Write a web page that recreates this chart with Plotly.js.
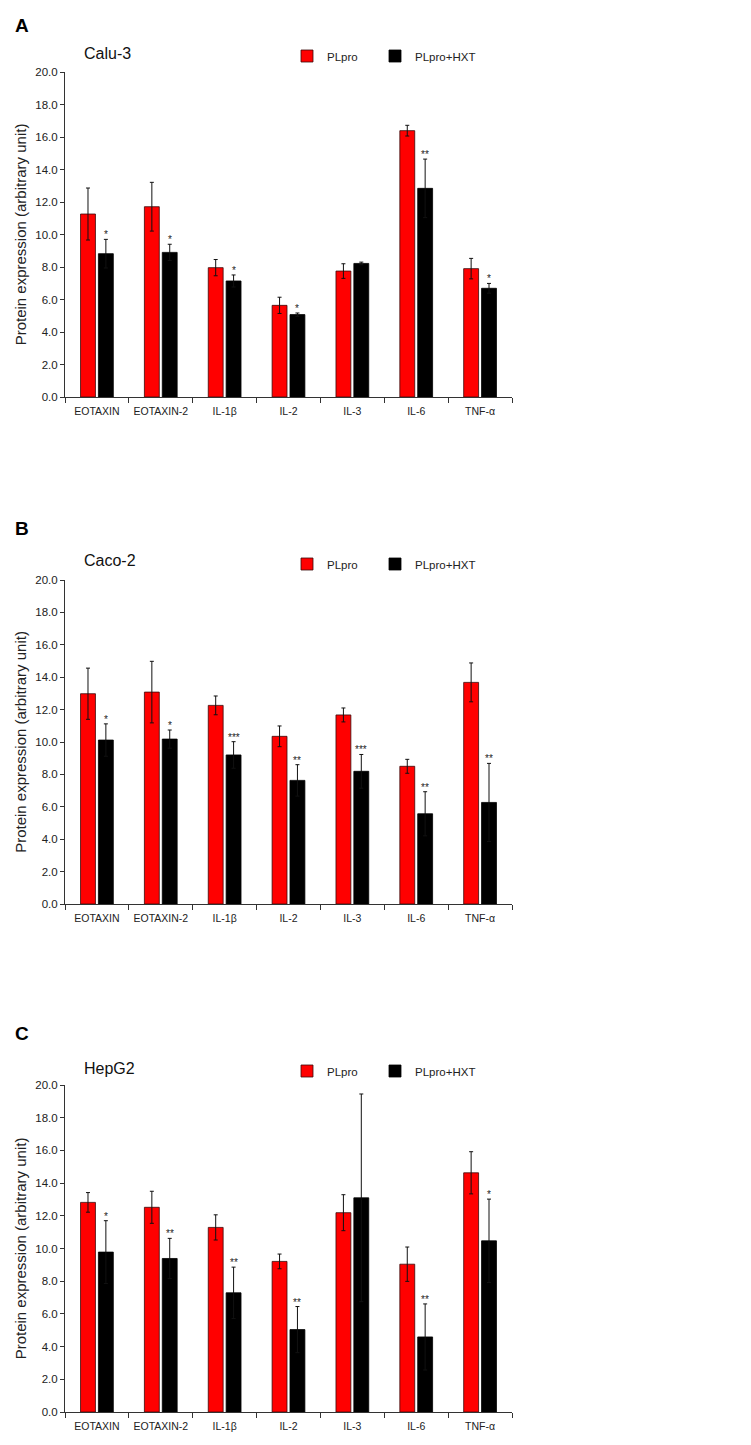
<!DOCTYPE html>
<html><head><meta charset="utf-8">
<script src="https://cdn.plot.ly/plotly-3.0.1.min.js"></script>
<style>html,body{margin:0;padding:0;background:#fff}</style>
</head><body><div id="chart" style="width:751px;height:1445px"></div>
<script>
const categories = ['EOTAXIN','EOTAXIN-2','IL-1β','IL-2','IL-3','IL-6','TNF-α'];
const panelLetters = ['A','B','C'];
const cellLines = ['Calu-3','Caco-2','HepG2'];
const seriesNames = ['PLpro','PLpro+HXT'];
const yTitle = 'Protein expression (arbitrary unit)';

// Panel A: Calu-3
const caluPLpro    = [11.26, 11.71, 7.96, 5.64, 7.75, 16.39, 7.90];
const caluPLproErr = [1.60, 1.50, 0.50, 0.50, 0.45, 0.33, 0.63];
const caluHXT      = [8.82, 8.90, 7.14, 5.07, 8.22, 12.84, 6.69];
const caluHXTErr   = [0.88, 0.50, 0.37, 0.10, 0.08, 1.80, 0.30];
const caluStars    = ['*','*','*','*','','**','*'];

// Panel B: Caco-2
const cacoPLpro    = [12.98, 13.08, 12.26, 10.35, 11.67, 8.50, 13.68];
const cacoPLproErr = [1.58, 1.90, 0.58, 0.64, 0.43, 0.43, 1.20];
const cacoHXT      = [10.12, 10.18, 9.20, 7.63, 8.19, 5.57, 6.27];
const cacoHXTErr   = [1.00, 0.56, 0.82, 0.97, 1.04, 1.36, 2.41];
const cacoStars    = ['*','*','***','**','***','**','**'];

// Panel C: HepG2
const hepPLpro     = [12.82, 12.52, 11.29, 9.21, 12.19, 9.04, 14.63];
const hepPLproErr  = [0.60, 0.98, 0.77, 0.45, 1.10, 1.05, 1.29];
const hepHXT       = [9.78, 9.39, 7.29, 5.04, 13.10, 4.59, 10.47];
const hepHXTErr    = [1.92, 1.23, 1.57, 1.41, 6.35, 2.02, 2.55];
const hepStars     = ['*','**','**','**','','**','*'];

const panels = [
  {a: caluPLpro, ae: caluPLproErr, b: caluHXT, be: caluHXTErr, s: caluStars},
  {a: cacoPLpro, ae: cacoPLproErr, b: cacoHXT, be: cacoHXTErr, s: cacoStars},
  {a: hepPLpro,  ae: hepPLproErr,  b: hepHXT,  be: hepHXTErr,  s: hepStars}
];

const W = 751, H = 1445;
const fam = 'Liberation Sans, Arial, sans-serif';
const redC = '#ff0000', blackC = '#000000';
const bargap = 0.44, bargroupgap = 0.167;

// pixel geometry of each panel
const geo = [
  {top: 72,  bot: 397,   lab: 56,   letter: 25},
  {top: 580, bot: 904,   lab: 564,  letter: 528},
  {top: 1085,bot: 1412,  lab: 1071, letter: 1033}
];
const xDom = [65 / W, 512 / W];
const legendX = [287 / W, 375 / W];

const data = [];
const layout = {
  width: W, height: H,
  margin: {l: 0, r: 0, t: 0, b: 0},
  paper_bgcolor: '#fff', plot_bgcolor: '#fff',
  showlegend: true,
  barmode: 'group', bargap: bargap, bargroupgap: bargroupgap,
  font: {family: fam, size: 12, color: '#222'},
  annotations: []
};

panels.forEach((p, i) => {
  const n = i + 1;
  const xa = n === 1 ? 'x' : 'x' + n;
  const ya = n === 1 ? 'y' : 'y' + n;
  const lgA = i === 0 ? 'legend' : 'legend' + (2 * i + 1);
  const lgB = 'legend' + (2 * i + 2);
  const g = geo[i];
  data.push({
    type: 'bar', name: seriesNames[0], x: categories, y: p.a,
    xaxis: xa, yaxis: ya, legend: lgA, showlegend: true,
    marker: {color: redC, line: {color: '#3a0a0a', width: 0.8}},
    error_y: {type: 'data', array: p.ae, visible: true, color: '#111', thickness: 1, width: 2}
  });
  data.push({
    type: 'bar', name: seriesNames[1], x: categories, y: p.b,
    xaxis: xa, yaxis: ya, legend: lgB, showlegend: true,
    marker: {color: blackC, line: {color: '#000', width: 0.8}},
    error_y: {type: 'data', array: p.be, visible: true, color: '#111', thickness: 1, width: 2}
  });
  layout[n === 1 ? 'xaxis' : 'xaxis' + n] = {
    domain: xDom, anchor: ya, type: 'category',
    showline: true, linecolor: '#333', linewidth: 1,
    ticks: 'outside', tickson: 'boundaries', ticklen: 5, tickcolor: '#333',
    tickangle: 0, ticklabelstandoff: 4,
    tickfont: {family: fam, size: 10.5, color: '#222'},
    showgrid: false, zeroline: false, fixedrange: true
  };
  layout[n === 1 ? 'yaxis' : 'yaxis' + n] = {
    domain: [1 - g.bot / H, 1 - g.top / H], anchor: xa,
    range: [0, 20], dtick: 2, tick0: 0, tickformat: '.1f',
    showline: true, linecolor: '#333', linewidth: 1,
    ticks: 'outside', ticklen: 4, tickcolor: '#333',
    tickfont: {family: fam, size: 11.5, color: '#222'},
    showgrid: false, zeroline: false, fixedrange: true,
    title: {text: yTitle, font: {family: fam, size: 15, color: '#222'}, standoff: 5}
  };
  [lgA, lgB].forEach((lg, j) => {
    layout[lg] = {
      visible: true,
      orientation: 'h', x: legendX[j], xanchor: 'left', y: 1 - g.lab / H, yanchor: 'middle',
      font: {family: fam, size: 11.5, color: '#222'},
      bgcolor: 'rgba(0,0,0,0)', borderwidth: 0
    };
  });
  // cell line title
  layout.annotations.push({
    xref: 'paper', yref: 'paper', x: 82 / W, y: 1 - (g.lab - 3) / H,
    xanchor: 'left', yanchor: 'middle', showarrow: false,
    text: cellLines[i], font: {family: fam, size: 16, color: '#111'}
  });
  // panel letter
  layout.annotations.push({
    xref: 'paper', yref: 'paper', x: 13 / W, y: 1 - g.letter / H,
    xanchor: 'left', yanchor: 'middle', showarrow: false,
    text: '<b>' + panelLetters[i] + '</b>', font: {family: fam, size: 19, color: '#000'}
  });
  // significance stars above the PLpro+HXT bars
  p.s.forEach((st, k) => {
    if (!st) return;
    layout.annotations.push({
      xref: xa, yref: ya, x: k + (1 - bargap) / 4, y: p.b[k] + p.be[k],
      xanchor: 'center', yanchor: 'bottom', showarrow: false, yshift: -3,
      text: st, font: {family: fam, size: 10, color: '#222'}
    });
  });
});

Plotly.newPlot('chart', data, layout, {staticPlot: true, displayModeBar: false});
</script>
</body></html>
